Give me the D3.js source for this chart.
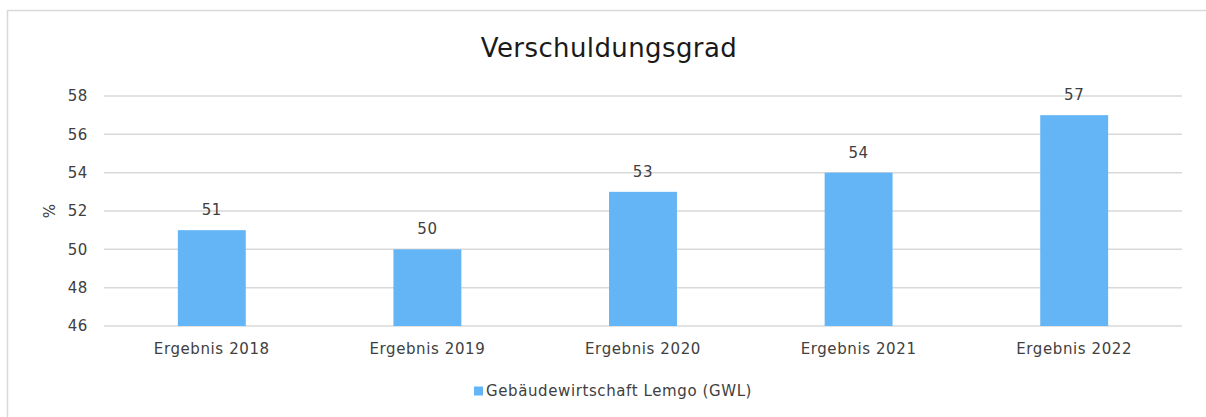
<!DOCTYPE html>
<html>
<head>
<meta charset="utf-8">
<script src="https://cdn.jsdelivr.net/npm/d3@7"></script>
<style>
  html, body { margin: 0; padding: 0; background: #fff; }
  svg { display: block; font-family: "DejaVu Sans", Verdana, sans-serif; }
</style>
</head>
<body>
<svg id="chart" width="1206" height="417"></svg>
<script>
// ── Daten ──────────────────────────────────────────────────────────────────
const categories = ['Ergebnis 2018', 'Ergebnis 2019', 'Ergebnis 2020', 'Ergebnis 2021', 'Ergebnis 2022'];
const values     = [51, 50, 53, 54, 57];
const yTicks     = [46, 48, 50, 52, 54, 56, 58];
const seriesName = 'Gebäudewirtschaft Lemgo (GWL)';

const BAR_COLOR  = '#64b5f6';
const GRID_COLOR = '#d9d9d9';
const TEXT_COLOR = '#404040';
const FS = '15px', LS = '0.6px';

const svg = d3.select('#chart');
const W = 1206, H = 417;
const M = { left: 104, right: 24, top: 96, bottom: 91 };

// Rahmen
svg.append('path')
  .attr('d', `M7.5,${H} V10.5 H${W}`)
  .attr('fill', 'none').attr('stroke', GRID_COLOR).attr('stroke-width', 1.5);

// Titel
svg.append('text')
  .attr('x', 609).attr('y', 57)
  .attr('text-anchor', 'middle')
  .attr('font-size', '26px').attr('letter-spacing', '0.4px').attr('fill', '#1a1a1a')
  .text('Verschuldungsgrad');

// ── Skalen ─────────────────────────────────────────────────────────────────
const x = d3.scaleBand()
  .domain(categories)
  .range([M.left, W - M.right])
  .paddingInner(0.685).paddingOuter(0.3425);

const y = d3.scaleLinear()
  .domain([46, 58])
  .range([H - M.bottom, M.top]);

// Gitterlinien
svg.append('g')
  .selectAll('line')
  .data(yTicks)
  .join('line')
  .attr('x1', M.left).attr('x2', W - M.right)
  .attr('y1', d => y(d)).attr('y2', d => y(d))
  .attr('stroke', GRID_COLOR).attr('stroke-width', 1.5);

// Y-Achse Beschriftung
svg.append('g')
  .selectAll('text')
  .data(yTicks)
  .join('text')
  .attr('x', 88).attr('y', d => y(d))
  .attr('dy', '0.35em')
  .attr('text-anchor', 'end')
  .attr('font-size', FS).attr('letter-spacing', LS).attr('fill', TEXT_COLOR)
  .text(d => d);

svg.append('text')
  .attr('transform', `translate(55,${y(52)}) rotate(-90)`)
  .attr('text-anchor', 'middle')
  .attr('font-size', FS).attr('fill', TEXT_COLOR)
  .text('%');

// Balken
svg.append('g')
  .selectAll('rect')
  .data(values)
  .join('rect')
  .attr('x', (d, i) => x(categories[i]))
  .attr('width', x.bandwidth())
  .attr('y', d => y(d))
  .attr('height', d => y(46) - y(d))
  .attr('fill', BAR_COLOR);

// Werte
svg.append('g')
  .selectAll('text')
  .data(values)
  .join('text')
  .attr('x', (d, i) => x(categories[i]) + x.bandwidth() / 2)
  .attr('y', d => y(d) - 15)
  .attr('text-anchor', 'middle')
  .attr('font-size', FS).attr('letter-spacing', LS).attr('fill', TEXT_COLOR)
  .text(d => d);

// X-Achse Beschriftung
svg.append('g')
  .selectAll('text')
  .data(categories)
  .join('text')
  .attr('x', d => x(d) + x.bandwidth() / 2)
  .attr('y', y(46) + 28)
  .attr('text-anchor', 'middle')
  .attr('font-size', FS).attr('letter-spacing', LS).attr('fill', TEXT_COLOR)
  .text(d => d);

// Legende
const leg = svg.append('g').attr('transform', 'translate(474,391)');
leg.append('rect')
  .attr('x', 0).attr('y', -4.5).attr('width', 9).attr('height', 9)
  .attr('fill', BAR_COLOR);
leg.append('text')
  .attr('x', 12).attr('y', 0).attr('dy', '0.35em')
  .attr('font-size', FS).attr('letter-spacing', LS).attr('fill', TEXT_COLOR)
  .text(seriesName);
</script>
</body>
</html>
